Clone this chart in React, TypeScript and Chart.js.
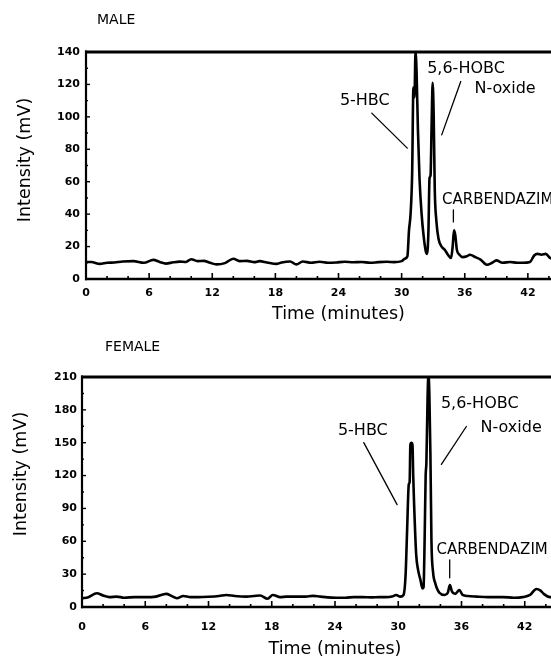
import React, { useEffect, useRef } from 'react';
import { Chart, registerables } from 'chart.js';

Chart.register(...registerables);

// ---------- DATA ----------
const TIME_MIN = 0;
const TIME_MAX = 48;
const TIME_STEP = 6;

const MALE_TIME = [
  0, 0.5, 1.3, 2.0, 2.7, 3.5, 4.5, 5.5, 6.4, 7.0, 7.6, 8.3, 8.9, 9.5, 10.0, 10.6, 11.2, 11.8, 12.4, 13.2,
  14.0, 14.6, 15.3, 16.0, 16.5, 17.2, 18.1, 18.6, 19.4, 20.0, 20.6, 21.4, 22.2, 23.0, 23.8, 24.6, 25.4, 26.2,
  27.0, 27.8, 28.6, 29.3, 30.0, 30.3, 30.55, 30.7, 30.85, 31.0, 31.12, 31.22, 31.32, 31.42, 31.55, 31.7, 31.9,
  32.1, 32.3, 32.42, 32.55, 32.65, 32.75, 32.85, 32.95, 33.05, 33.15, 33.3, 33.5, 33.8, 34.1, 34.4, 34.7, 34.85,
  34.98, 35.1, 35.25, 35.5, 35.8, 36.2, 36.5, 37.0, 37.5, 38.1, 38.6, 39.0, 39.6, 40.3, 41.0, 41.5, 42.2, 42.6,
  42.9, 43.3, 43.7, 44.1, 44.6, 45.5, 46.5, 48,
];
const MALE_INTENSITY = [
  10.5, 10.5, 9.3, 10, 10.2, 10.8, 11, 10, 11.8, 10.5, 9.5, 10.3, 10.7, 10.5, 12.2, 11, 11.2, 10, 9, 9.8,
  12.5, 11, 11.2, 10.4, 11, 10.2, 9.3, 10.2, 10.8, 9.0, 10.8, 10, 10.6, 10, 10.2, 10.6, 10.3, 10.5,
  10, 10.4, 10.6, 10.4, 11, 12.5, 14, 30, 40, 65, 118, 112, 140, 128, 92, 62, 40,
  26, 17, 15.5, 30, 62, 64, 95, 121, 100, 55, 36, 25, 20, 18, 15, 13, 20,
  30, 27, 18, 15, 13.5, 14, 15, 13.5, 12, 8.8, 10, 11.5, 10, 10.5, 10, 10, 10.5, 14.5,
  15.5, 15, 15.5, 13, 12, 11, 11, 11,
];

const FEMALE_TIME = [
  0, 0.6, 1.4, 2.0, 2.6, 3.3, 4.0, 5.0, 6.0, 7.0, 8.0, 8.5, 9.0, 9.6, 10.3, 11.0, 12.0, 13.0, 13.7, 14.5,
  15.6, 16.3, 16.9, 17.6, 18.1, 18.8, 19.4, 20.5, 21.2, 21.9, 22.6, 23.3, 24.1, 25.0, 25.8, 26.6, 27.5, 28.2,
  28.8, 29.4, 29.8, 30.2, 30.5, 30.7, 30.84, 31.0, 31.08, 31.15, 31.25, 31.35, 31.42, 31.5, 31.7, 31.9, 32.1,
  32.3, 32.4, 32.5, 32.6, 32.67, 32.78, 32.86, 32.95, 33.05, 33.15, 33.3, 33.5, 33.9, 34.4, 34.7, 34.9, 35.1,
  35.4, 35.8, 36.1, 36.6, 37.4, 38.5, 39.9, 41.0, 41.8, 42.5, 43.1, 43.5, 43.8, 44.4, 45.5, 48,
];
const FEMALE_INTENSITY = [
  8, 9, 12.5, 10.5, 9, 9.5, 8.5, 9, 9, 9.5, 12, 10, 8, 10, 9, 9, 9.3, 10, 11, 10,
  9.5, 10, 10.5, 7.5, 11, 9, 9.5, 9.5, 9.5, 10.2, 9.5, 8.8, 8.5, 8.5, 9, 9, 8.8, 9,
  9, 9.5, 11, 9.5, 11, 30, 70, 112, 114, 148, 150, 148, 120, 95, 48, 33, 25,
  17, 18, 60, 120, 132, 190, 212, 195, 140, 60, 32, 22, 13, 11, 13, 20, 14,
  12, 15.5, 11, 10, 9.5, 9, 9, 8.5, 9, 11, 16.5, 15, 12, 9, 9, 9,
];

const MALE_Y_MAX = 140;
const MALE_Y_STEP = 20;
const FEMALE_Y_MAX = 210;
const FEMALE_Y_STEP = 30;

const X_TITLE = 'Time (minutes)';
const Y_TITLE = 'Intensity (mV)';

// peak annotations, placed in data units (time, intensity)
const MALE_NOTES = [
  { text: '5-HBC', t: 26.5, v: 110, align: 'center', size: 16 },
  { text: '5,6-HOBC', t: 36.12, v: 129.6, align: 'center', size: 16 },
  { text: 'N-oxide', t: 39.83, v: 117.3, align: 'center', size: 16 },
  { text: 'CARBENDAZIM', t: 33.84, v: 48.8, align: 'left', size: 15 },
];
const MALE_LEADERS = [
  [27.16, 102.3, 30.54, 80.7],
  [35.62, 121.8, 33.81, 88.9],
  [34.92, 42.6, 34.92, 35.2],
];
const FEMALE_NOTES = [
  { text: '5-HBC', t: 26.64, v: 160.5, align: 'center', size: 16 },
  { text: '5,6-HOBC', t: 37.73, v: 185.2, align: 'center', size: 16 },
  { text: 'N-oxide', t: 40.71, v: 163.7, align: 'center', size: 16 },
  { text: 'CARBENDAZIM', t: 33.62, v: 52.3, align: 'left', size: 15 },
];
const FEMALE_LEADERS = [
  [26.73, 150.1, 29.89, 93.5],
  [36.46, 164.8, 34.09, 130.2],
  [34.88, 43.1, 34.88, 26.6],
];

// ---------- CHART ----------
const FONT = '"DejaVu Sans", "Liberation Sans", sans-serif';

type PanelProps = {
  label: string;
  time: number[];
  values: number[];
  yMax: number;
  yStep: number;
  notes: { text: string; t: number; v: number; align: string; size: number }[];
  leaders: number[][];
  top: number;
  lay: {
    h: number; padTop: number; yWidth: number; xHeight: number; padRight: number;
    yTickPad: number; xTickPad: number; yTitlePad: number; xTitlePad: number; titleShift: number;
    labelDx: number; labelY: number;
  };
};

const CANVAS_W = 620;

function Panel(p: PanelProps) {
  const ref = useRef<HTMLCanvasElement | null>(null);
  useEffect(() => {
    if (!ref.current) return;
    const L = p.lay;
    let shifted = false;
    const decor = {
      id: 'decor',
      beforeDraw(chart: any) {
        // move only the y-axis title (scales are drawn before the datasets)
        const y = chart.scales.y;
        if (!shifted) {
          y.top += L.titleShift;
          y.bottom += L.titleShift;
          shifted = true;
        }
      },
      beforeDatasetsDraw(chart: any) {
        const y = chart.scales.y;
        if (shifted) {
          y.top -= L.titleShift;
          y.bottom -= L.titleShift;
          shifted = false;
        }
      },
      afterDatasetsDraw(chart: any) {
        const { ctx, chartArea: a, scales } = chart;
        const x = scales.x;
        const y = scales.y;
        const line = (x1: number, y1: number, x2: number, y2: number, w: number) => {
          ctx.lineWidth = w;
          ctx.beginPath();
          ctx.moveTo(x1, y1);
          ctx.lineTo(x2, y2);
          ctx.stroke();
        };
        ctx.save();
        ctx.strokeStyle = '#000';
        ctx.fillStyle = '#000';
        ctx.lineCap = 'butt';
        // frame
        line(a.left - 1, a.top, a.right, a.top, 3);
        line(a.left, a.top - 1.5, a.left, a.bottom + 1.25, 2.2);
        line(a.left - 1, a.bottom, a.right, a.bottom, 2.5);
        line(a.right, a.top, a.right, a.bottom, 2);
        // inner ticks on time axis
        for (let t = TIME_MIN; t <= TIME_MAX; t += 2) {
          const px = x.getPixelForValue(t);
          const len = t % TIME_STEP === 0 ? 6 : 3;
          line(px, a.bottom, px, a.bottom - len, 1.6);
        }
        // inner ticks on intensity axis
        for (let v = 0; v <= p.yMax; v += p.yStep / 2) {
          const py = y.getPixelForValue(v);
          const len = v % p.yStep === 0 ? 4 : 2;
          line(a.left, py, a.left + len, py, 1.4);
        }
        // leaders
        ctx.lineCap = 'round';
        p.leaders.forEach(([t1, v1, t2, v2]) => {
          line(x.getPixelForValue(t1), y.getPixelForValue(v1), x.getPixelForValue(t2), y.getPixelForValue(v2), 1.3);
        });
        // peak labels
        ctx.textBaseline = 'middle';
        p.notes.forEach((n) => {
          ctx.font = `${n.size}px ${FONT}`;
          ctx.textAlign = n.align as CanvasTextAlign;
          ctx.fillText(n.text, x.getPixelForValue(n.t), y.getPixelForValue(n.v));
        });
        // panel label
        ctx.font = `14px ${FONT}`;
        ctx.textAlign = 'left';
        ctx.fillText(p.label, a.left + L.labelDx, L.labelY);
        ctx.restore();
      },
    };

    const chart = new Chart(ref.current, {
      type: 'line',
      data: {
        datasets: [
          {
            data: p.time.map((t, i) => ({ x: t, y: p.values[i] })),
            borderColor: '#000',
            borderWidth: 2.6,
            pointRadius: 0,
            cubicInterpolationMode: 'monotone',
            fill: false,
          },
        ],
      },
      options: {
        responsive: false,
        animation: false,
        devicePixelRatio: 1,
        layout: { padding: { top: L.padTop, left: 0, right: L.padRight, bottom: 0 } },
        plugins: { legend: { display: false }, tooltip: { enabled: false }, title: { display: false } },
        events: [],
        scales: {
          x: {
            type: 'linear',
            min: TIME_MIN,
            max: TIME_MAX,
            grid: { display: false, drawTicks: false },
            border: { display: false },
            ticks: {
              stepSize: TIME_STEP,
              padding: L.xTickPad,
              color: '#000',
              maxRotation: 0,
              font: { family: FONT, size: 11, weight: 'bold' },
            },
            title: {
              display: true,
              text: X_TITLE,
              color: '#000',
              font: { family: FONT, size: 17.5 },
              padding: { top: 0, bottom: L.xTitlePad },
            },
            afterFit: (s: any) => {
              s.height = L.xHeight;
            },
          },
          y: {
            type: 'linear',
            min: 0,
            max: p.yMax,
            grid: { display: false, drawTicks: false },
            border: { display: false },
            ticks: {
              stepSize: p.yStep,
              padding: L.yTickPad,
              color: '#000',
              font: { family: FONT, size: 11, weight: 'bold' },
            },
            title: {
              display: true,
              text: Y_TITLE,
              color: '#000',
              font: { family: FONT, size: 17.5 },
              padding: { top: L.yTitlePad, bottom: 0 },
            },
            afterFit: (s: any) => {
              s.width = L.yWidth;
            },
          },
        },
      },
      plugins: [decor],
    } as any);
    return () => chart.destroy();
  }, []);

  return (
    <canvas
      ref={ref}
      width={CANVAS_W}
      height={p.lay.h}
      style={{ position: 'absolute', left: 0, top: p.top, display: 'block' }}
    />
  );
}

export default function App() {
  return (
    <div
      style={{
        position: 'fixed',
        left: 0,
        top: 0,
        width: 551,
        height: 659,
        overflow: 'hidden',
        background: '#fff',
      }}
    >
      <Panel
        label="MALE"
        time={MALE_TIME}
        values={MALE_INTENSITY}
        yMax={MALE_Y_MAX}
        yStep={MALE_Y_STEP}
        notes={MALE_NOTES}
        leaders={MALE_LEADERS}
        top={0}
        lay={{
          h: 330, padTop: 52, yWidth: 86, xHeight: 51, padRight: CANVAS_W - 591,
          yTickPad: 6, xTickPad: 8, yTitlePad: 14.5, xTitlePad: 5.5, titleShift: -5.5,
          labelDx: 11, labelY: 20,
        }}
      />
      <Panel
        label="FEMALE"
        time={FEMALE_TIME}
        values={FEMALE_INTENSITY}
        yMax={FEMALE_Y_MAX}
        yStep={FEMALE_Y_STEP}
        notes={FEMALE_NOTES}
        leaders={FEMALE_LEADERS}
        top={330}
        lay={{
          h: 330, padTop: 47, yWidth: 82, xHeight: 53, padRight: CANVAS_W - 588,
          yTickPad: 5, xTickPad: 14, yTitlePad: 10.5, xTitlePad: 0, titleShift: -18,
          labelDx: 23, labelY: 17,
        }}
      />
    </div>
  );
}
